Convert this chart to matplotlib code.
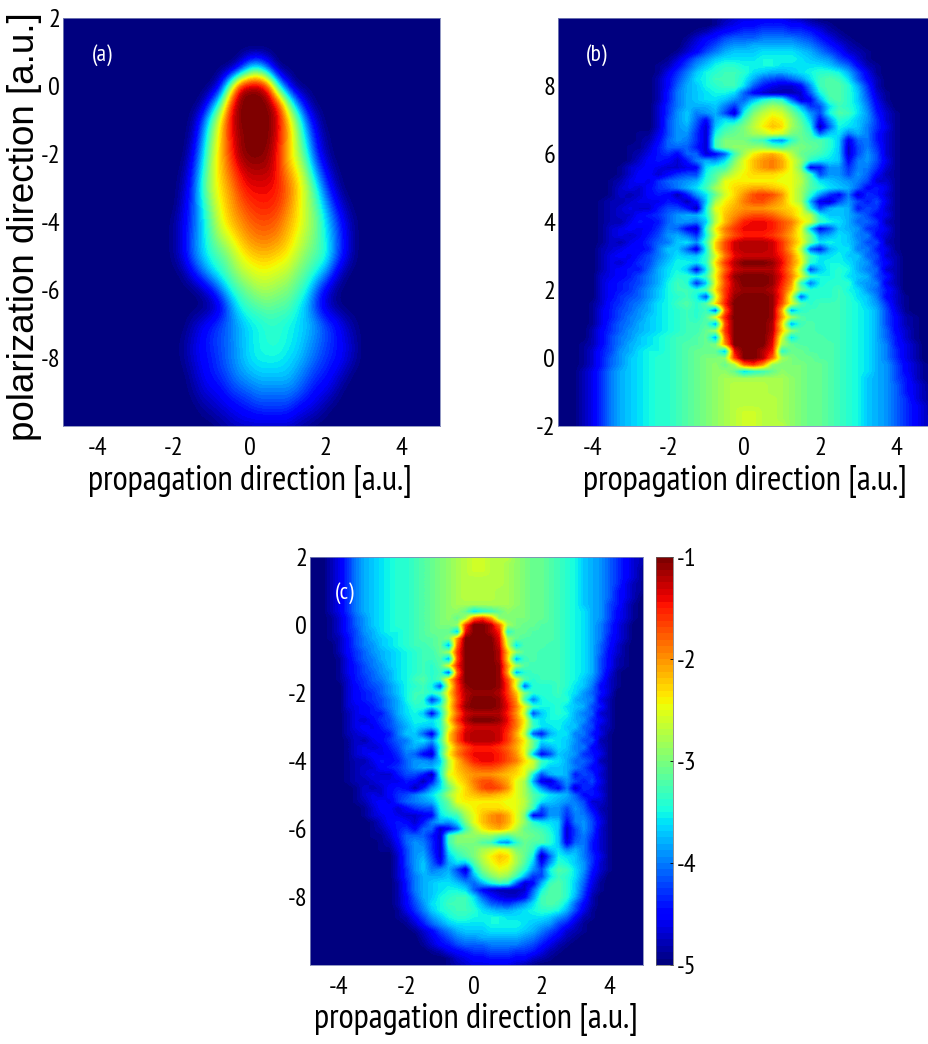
import numpy as np
import matplotlib
matplotlib.use("Agg")
import matplotlib.pyplot as plt
from matplotlib import font_manager as fm

W, H = 929, 1044
names = {f.name for f in fm.fontManager.ttflist}
NARROW = next((n for n in ["PT Sans Narrow", "Archivo Narrow", "Barlow Condensed", "Liberation Sans"] if n in names), "DejaVu Sans")

# Heatmap levels: log10 value = -5 + level / 10
# Panel (a): x = -2.5 .. 3.5 step 0.25, y = 1 .. -10 step 0.5
a_y = np.arange(1, -10.01, -0.5)
a_levels = [
 [0,0,0,0,0, 0,0,0,0,0, 0,0,0,0,0, 0,0,0,0,0, 0,0,0,0,0],
 [0,0,0,0,0, 0,0,0,0,4, 14,16,8,0,0, 0,0,0,0,0, 0,0,0,0,0],
 [0,0,0,0,0, 0,0,5,21,38, 40,40,35,16,5, 0,0,0,0,0, 0,0,0,0,0],
 [0,0,0,0,0, 1,8,18,34,40, 40,40,40,35,22, 10,3,0,0,0, 0,0,0,0,0],
 [0,0,0,0,1, 7,17,27,36,40, 40,40,40,37,29, 20,9,3,0,0, 0,0,0,0,0],
 [0,0,0,0,2, 10,20,28,35,39, 40,40,40,36,30, 22,13,5,1,0, 0,0,0,0,0],
 [0,0,0,0,4, 12,22,28,34,39, 40,40,39,35,28, 23,16,7,2,0, 0,0,0,0,0],
 [0,0,0,1,6, 14,23,28,32,36, 38,38,38,35,30, 26,20,11,5,1, 0,0,0,0,0],
 [0,0,0,2,7, 16,23,27,30,34, 36,36,36,35,32, 28,23,16,8,3, 0,0,0,0,0],
 [0,0,0,3,8, 14,21,26,29,32, 34,35,35,34,31, 27,23,18,12,6, 2,0,0,0,0],
 [0,0,1,4,8, 13,19,25,28,30, 32,33,33,32,29, 27,23,20,14,9, 4,1,0,0,0],
 [0,0,1,4,9, 13,18,22,25,28, 30,31,31,30,28, 25,22,19,15,10, 5,1,0,0,0],
 [0,0,1,4,9, 13,16,18,21,25, 27,28,28,27,26, 23,20,18,16,10, 5,1,0,0,0],
 [0,0,0,1,5, 9,13,16,19,22, 24,25,25,24,23, 20,18,15,11,5, 1,0,0,0,0],
 [0,0,0,0,0, 2,5,10,15,18, 20,22,22,21,20, 18,15,9,4,1, 0,0,0,0,0],
 [0,0,0,0,0, 0,1,4,10,15, 17,18,19,18,18, 15,12,7,3,1, 0,0,0,0,0],
 [0,0,0,0,2, 4,6,8,10,12, 14,15,16,16,15, 14,13,11,8,6, 3,1,0,0,0],
 [0,0,0,1,3, 5,7,8,10,12, 14,15,16,16,15, 14,12,10,8,6, 4,2,0,0,0],
 [0,0,0,1,3, 5,6,8,10,12, 14,15,15,15,14, 13,11,9,7,6, 4,2,0,0,0],
 [0,0,0,0,2, 4,6,7,9,11, 12,13,13,13,13, 11,9,7,6,4, 2,0,0,0,0],
 [0,0,0,0,1, 3,4,5,7,8, 9,10,10,10,10, 9,7,5,4,2, 0,0,0,0,0],
 [0,0,0,0,0, 1,2,3,4,5, 6,7,7,7,7, 5,4,3,1,0, 0,0,0,0,0],
 [0,0,0,0,0, 0,0,1,2,3, 3,3,3,3,3, 2,1,0,0,0, 0,0,0,0,0],
]

# Panel (b): x = -5 .. 5 step 0.25, y = 10 .. -2 step 0.2
b_x = np.arange(-5, 5.01, 0.25)
b_y = np.arange(10, -2.01, -0.2)
b_levels = [
 [0,0,0,0,0, 0,0,0,0,0, 0,0,0,0,0, 0,0,1,2,3, 4,4,4,4,4, 3,2,1,0,0, 0,0,0,0,0, 0,0,0,0,0, 0],
 [0,0,0,0,0, 0,0,0,0,0, 0,0,0,0,0, 0,0,1,3,4, 5,5,6,6,6, 5,5,3,2,1, 0,0,0,0,0, 0,0,0,0,0, 0],
 [0,0,0,0,0, 0,0,0,0,0, 0,0,0,0,0, 1,2,4,5,6, 7,7,8,8,8, 7,7,6,4,2, 1,0,0,0,0, 0,0,0,0,0, 0],
 [0,0,0,0,0, 0,0,0,0,0, 0,0,0,0,1, 3,5,6,8,9, 9,9,10,10,10, 10,9,8,6,4, 2,1,0,0,0, 0,0,0,0,0, 0],
 [0,0,0,0,0, 0,0,0,0,0, 0,0,0,0,2, 4,6,8,10,11, 11,12,12,12,12, 12,11,10,8,6, 4,2,1,0,0, 0,0,0,0,0, 0],
 [0,0,0,0,0, 0,0,0,0,0, 0,0,0,1,3, 5,8,10,12,13, 13,13,14,14,14, 14,13,12,10,8, 6,3,2,1,0, 0,0,0,0,0, 0],
 [0,0,0,0,0, 0,0,0,0,0, 0,0,1,3,6, 9,11,13,14,14, 14,14,15,15,15, 15,14,13,12,11, 8,6,3,1,0, 0,0,0,0,0, 0],
 [0,0,0,0,0, 0,0,0,0,0, 0,1,2,5,8, 11,13,15,16,16, 15,15,15,15,14, 14,14,14,14,13, 11,9,5,2,1, 0,0,0,0,0, 0],
 [0,0,0,0,0, 0,0,0,0,0, 0,1,4,7,10, 13,15,16,17,17, 16,14,13,12,12, 13,14,15,16,16, 15,12,8,4,1, 0,0,0,0,0, 0],
 [0,0,0,0,0, 0,0,0,0,0, 0,2,5,8,11, 14,15,17,17,17, 15,12,9,8,7, 9,11,14,17,18, 17,14,9,5,2, 0,0,0,0,0, 0],
 [0,0,0,0,0, 0,0,0,0,0, 0,2,5,9,12, 13,15,16,17,17, 14,9,6,4,3, 3,5,11,17,18, 18,16,12,7,2, 0,0,0,0,0, 0],
 [0,0,0,0,0, 0,0,0,0,0, 0,2,6,10,12, 13,14,15,15,14, 9,5,3,2,2, 2,3,9,15,18, 18,16,13,8,3, 1,0,0,0,0, 0],
 [0,0,0,0,0, 0,0,0,0,0, 0,2,6,10,12, 13,14,14,13,11, 9,12,15,17,16, 9,3,5,12,17, 18,16,13,9,4, 1,0,0,0,0, 0],
 [0,0,0,0,0, 0,0,0,0,0, 0,3,7,10,12, 12,12,13,10,7, 12,17,20,22,21, 17,12,7,8,14, 17,16,14,10,5, 2,0,0,0,0, 0],
 [0,0,0,0,0, 0,0,0,0,0, 0,3,7,11,13, 10,11,12,8,3, 15,20,23,25,24, 20,16,11,8,15, 18,17,14,11,6, 3,1,0,0,0, 0],
 [0,0,0,0,0, 0,0,0,0,0, 0,3,8,11,13, 9,5,12,14,13, 18,22,25,27,26, 22,18,13,5,11, 16,15,13,11,7, 3,1,0,0,0, 0],
 [0,0,0,0,0, 0,0,0,0,0, 0,3,8,11,12, 8,3,13,16,18, 20,23,26,28,27, 22,19,15,2,9, 15,14,13,10,7, 4,1,0,0,0, 0],
 [0,0,0,0,0, 0,0,0,0,1, 1,4,8,11,11, 7,3,15,18,19, 20,22,23,25,24, 20,19,17,9,13, 14,10,12,10,6, 3,1,0,0,0, 0],
 [0,0,0,0,0, 0,0,0,0,1, 2,5,9,11,10, 7,3,17,20,20, 20,18,17,12,11, 16,19,18,18,16, 13,4,9,10,6, 3,1,0,0,0, 0],
 [0,0,0,0,0, 0,0,0,1,1, 3,6,9,9,9, 6,3,17,20,21, 21,21,21,19,18, 20,20,19,18,16, 13,3,8,10,7, 3,1,0,0,0, 0],
 [0,0,0,0,0, 0,0,0,1,2, 4,6,7,5,9, 9,3,5,9,17, 22,26,28,29,27, 23,19,18,17,15, 13,3,8,11,8, 3,1,0,0,0, 0],
 [0,0,0,0,0, 0,0,0,1,3, 5,6,5,3,6, 10,12,11,14,20, 25,28,30,31,29, 25,21,16,14,14, 13,5,10,11,8, 4,1,0,0,0, 0],
 [0,0,0,0,0, 0,0,1,3,4, 5,4,3,3,4, 5,14,16,17,22, 25,28,30,31,29, 25,20,5,6,11, 11,7,10,10,7, 3,1,0,0,0, 0],
 [0,0,0,0,0, 0,0,1,3,5, 5,3,5,7,8, 8,15,18,21,24, 26,27,27,27,26, 25,22,17,8,11, 11,8,11,9,5, 2,1,0,0,0, 0],
 [0,0,0,0,0, 0,1,2,4,5, 4,7,9,10,11, 12,16,19,25,26, 26,26,26,26,25, 25,23,18,14,13, 12,11,10,8,3, 3,1,0,0,0, 0],
 [0,0,0,0,0, 0,1,3,4,3, 5,7,8,10,12, 14,17,22,25,27, 28,29,29,28,27, 25,22,18,16,14, 13,12,9,5,6, 4,1,0,0,0, 0],
 [0,0,0,0,0, 0,1,3,2,3, 5,6,5,2,6, 11,14,19,24,27, 30,33,34,33,30, 25,22,16,11,7, 5,10,3,7,6, 3,1,0,0,0, 0],
 [0,0,0,0,0, 1,2,2,3,4, 4,4,6,5,2, 6,13,22,26,28, 31,33,33,31,29, 25,22,12,4,3, 8,11,8,6,8, 4,1,0,0,0, 0],
 [0,0,0,0,0, 1,2,3,4,3, 3,6,8,8,6, 2,15,25,27,29, 30,30,30,29,28, 27,25,15,8,12, 13,12,6,8,7, 3,1,0,0,0, 0],
 [0,0,0,0,0, 1,2,3,3,5, 6,7,9,11,12, 12,15,23,28,30, 32,33,33,32,30, 28,25,23,15,13, 13,12,10,8,5, 4,1,0,0,0, 0],
 [0,0,0,0,0, 1,2,2,4,6, 5,6,9,11,11, 10,13,23,28,32, 35,36,36,35,33, 31,27,24,17,15, 14,12,9,9,7, 2,1,0,0,0, 0],
 [0,0,0,0,0, 1,3,4,5,4, 5,7,10,9,5, 3,16,26,31,34, 36,36,36,35,33, 30,25,13,5,8, 13,12,11,7,6, 4,1,0,0,0, 0],
 [0,0,0,0,0, 1,3,4,3,4, 6,8,11,12,10, 7,15,24,30,33, 35,35,35,34,32, 29,25,19,11,12, 14,13,10,10,5, 3,1,0,0,0, 0],
 [0,0,0,0,0, 1,3,2,4,5, 7,9,10,13,14, 11,17,27,33,37, 38,38,38,37,34, 30,26,19,14,15, 14,13,11,8,8, 2,1,0,0,0, 0],
 [0,0,0,0,0, 2,3,4,5,5, 6,10,13,13,9, 4,15,27,33,37, 38,38,38,37,34, 29,23,9,6,12, 14,14,10,10,6, 4,1,0,0,0, 0],
 [0,0,0,0,0, 2,4,5,4,6, 8,10,12,14,13, 13,16,24,31,36, 37,37,37,37,35, 31,25,17,14,14, 15,13,13,9,8, 3,2,0,0,0, 0],
 [0,0,0,0,0, 2,4,3,5,7, 8,11,13,15,15, 14,16,27,34,38, 40,40,40,39,36, 31,26,16,14,15, 15,14,12,11,7, 5,2,0,0,0, 0],
 [0,0,0,0,0, 2,4,5,6,6, 9,12,14,15,13, 5,14,25,32,37, 38,38,38,38,35, 30,23,8,13,15, 16,15,12,10,9, 3,2,0,0,0, 0],
 [0,0,0,0,0, 3,4,5,6,8, 10,12,14,16,16, 15,17,26,34,39, 40,40,40,39,36, 31,25,17,15,15, 16,14,13,12,8, 6,2,0,0,0, 0],
 [0,0,0,0,0, 3,5,6,7,8, 10,12,15,17,16, 7,13,25,33,38, 40,40,40,39,35, 30,17,10,15,16, 16,16,12,11,10, 4,2,0,0,0, 0],
 [0,0,0,0,0, 3,5,6,7,9, 11,13,15,17,17, 16,18,27,34,38, 39,39,39,38,34, 28,20,16,16,16, 17,15,14,11,9, 6,3,0,0,0, 0],
 [0,0,0,0,0, 3,5,7,8,9, 11,13,15,16,17, 15,8,24,34,39, 40,40,40,39,34, 24,9,16,16,16, 17,16,14,13,10, 5,3,1,0,0, 0],
 [0,0,0,0,1, 3,6,7,9,10, 12,14,15,17,18, 16,18,27,35,40, 40,40,40,39,33, 25,18,16,17,17, 17,16,15,13,11, 7,3,1,0,0, 0],
 [0,0,0,0,1, 4,6,8,9,11, 12,14,15,16,17, 16,17,9,32,40, 40,40,40,39,29, 12,16,17,17,17, 17,16,15,14,12, 8,4,1,0,0, 0],
 [0,0,0,0,1, 4,6,8,10,11, 13,14,15,16,17, 16,18,25,35,40, 40,40,40,39,30, 22,18,17,17,17, 17,16,15,14,12, 8,5,2,1,0, 0],
 [0,0,0,0,1, 4,7,9,10,12, 13,14,15,16,17, 17,18,12,33,40, 40,40,40,38,27, 12,17,18,17,17, 17,16,15,14,12, 8,5,2,1,0, 0],
 [0,0,0,0,2, 5,7,9,11,12, 13,14,15,16,17, 17,19,22,34,40, 40,40,40,38,28, 21,18,18,17,17, 17,16,15,14,12, 9,5,3,1,0, 0],
 [0,0,0,0,2, 5,8,10,11,13, 14,15,16,17,17, 18,19,12,32,40, 40,40,40,37,24, 14,18,18,18,17, 17,16,15,14,12, 9,6,3,1,0, 0],
 [0,0,0,1,2, 5,8,10,12,13, 14,15,16,17,18, 18,19,20,30,40, 40,40,40,36,22, 19,18,18,18,18, 17,16,15,14,12, 10,6,4,2,0, 0],
 [0,0,0,1,3, 6,8,11,12,14, 15,15,16,17,18, 19,19,19,13,36, 40,40,38,35,16, 19,19,18,18,18, 17,16,15,14,12, 10,7,4,2,0, 0],
 [0,0,0,1,3, 6,9,11,13,14, 15,16,16,17,18, 19,20,20,21,34, 40,40,38,32,22, 20,19,19,18,18, 17,16,15,14,12, 10,7,4,2,0, 0],
 [0,0,0,1,3, 6,9,11,13,14, 15,16,16,17,18, 19,20,21,19,22, 32,34,30,21,20, 20,20,19,19,18, 17,16,15,14,12, 11,8,5,3,1, 0],
 [0,0,0,2,4, 7,10,12,13,14, 15,16,16,17,18, 19,20,21,21,19, 14,16,17,19,21, 20,20,19,19,18, 17,16,15,14,12, 11,8,5,3,1, 0],
 [0,0,0,2,4, 7,10,12,13,14, 15,16,16,17,18, 19,20,21,22,22, 22,22,22,22,22, 21,20,19,19,18, 17,16,15,13,12, 11,8,6,3,1, 0],
 [0,0,0,2,4, 7,10,12,13,14, 15,16,16,17,18, 19,20,21,22,23, 23,23,23,22,22, 21,20,19,19,18, 17,16,15,13,12, 11,9,6,4,2, 0],
 [0,0,0,2,4, 7,10,12,13,14, 15,16,16,17,18, 19,20,21,22,23, 23,23,23,22,22, 21,20,19,19,18, 17,16,15,13,12, 11,9,6,4,2, 1],
 [0,0,0,2,4, 7,10,12,13,14, 15,16,16,17,18, 19,20,21,22,23, 23,23,23,23,22, 21,20,19,19,18, 17,16,15,13,12, 11,9,7,4,2, 1],
 [0,0,0,2,4, 7,10,12,13,14, 15,16,16,17,18, 19,20,21,22,23, 23,23,23,23,22, 21,20,19,19,18, 17,16,15,13,12, 11,9,7,5,3, 1],
 [0,0,0,2,4, 7,10,12,13,14, 15,16,16,17,18, 19,20,21,22,23, 24,24,23,23,22, 21,20,19,19,18, 17,16,15,13,12, 11,9,7,5,3, 1],
 [0,0,0,2,4, 7,10,12,13,14, 15,16,16,17,18, 19,20,21,22,23, 24,24,23,23,22, 21,20,19,19,18, 17,16,15,13,12, 11,9,7,5,3, 2],
 [0,0,0,2,4, 7,10,12,13,14, 15,16,16,17,18, 19,20,21,22,23, 24,24,23,23,23, 21,20,19,19,18, 17,16,15,13,12, 11,9,7,5,3, 2],
]

x_ticks = [-4, -2, 0, 2, 4]
a_yticks = [2, 0, -2, -4, -6, -8]
b_yticks = [8, 6, 4, 2, 0, -2]
c_yticks = [2, 0, -2, -4, -6, -8]
cbar_ticks = [-1, -2, -3, -4, -5]
xlabel = "propagation direction [a.u.]"
ylabel = "polarization direction [a.u.]"


def to_log(levels):
    return -5 + np.array(levels, dtype=float) / 10


def px_axes(fig, left, top, right, bottom):
    return fig.add_axes([left / W, 1 - bottom / H, (right - left) / W, (bottom - top) / H])


def style(ax, xlim, ylim, yticks, tag, tagxy):
    ax.set_xlim(*xlim)
    ax.set_ylim(*ylim)
    ax.set_xticks(x_ticks)
    ax.set_xticklabels([str(t) for t in x_ticks], family=NARROW, fontsize=19)
    ax.set_yticks(yticks)
    ax.set_yticklabels([str(t) for t in yticks], family=NARROW, fontsize=19)
    ax.tick_params(axis="x", length=0, pad=8)
    ax.tick_params(axis="y", length=0, pad=2)
    for s in ax.spines.values():
        s.set_linewidth(0.6)
        s.set_color("#7f86b8")
    fig.text(tagxy[0] / W, 1 - tagxy[1] / H, tag, color="white", family=NARROW, fontsize=17,
             ha="center", va="center", zorder=10)


cmap = plt.get_cmap("jet", 64)
fig = plt.figure(figsize=(W / 100, H / 100), dpi=100, facecolor="white")


def draw(ax, xs, ys, z, interp):
    dx, dy = abs(xs[1] - xs[0]), abs(ys[1] - ys[0])
    return ax.imshow(z, extent=[xs[0] - dx / 2, xs[-1] + dx / 2, ys[-1] - dy / 2, ys[0] + dy / 2],
                     cmap=cmap, vmin=-5, vmax=-1, aspect="auto", interpolation=interp,
                     origin="upper")


# (a)
ax_a = px_axes(fig, 63, 18, 440, 426)
z_a = np.pad(to_log(a_levels), ((2, 2), (10, 6)), constant_values=-5)
xs_a = np.arange(-5, 5.01, 0.25)
ys_a = np.concatenate([[a_y[0] + 1.0, a_y[0] + 0.5], a_y, [a_y[-1] - 0.5, a_y[-1] - 1.0]])
draw(ax_a, xs_a, ys_a, z_a, "bicubic")
style(ax_a, (-4.9, 5), (-10, 2), a_yticks, "(a)", (102, 55))

# (b)
ax_b = px_axes(fig, 558, 18, 934, 426)
z_b = to_log(b_levels)
draw(ax_b, b_x, b_y, z_b, "bilinear")
style(ax_b, (-4.9, 5), (-2, 10), b_yticks, "(b)", (597, 55))

# (c): the same distribution as (b) seen with the polarization axis reversed
ax_c = px_axes(fig, 310, 557, 643, 965)
draw(ax_c, b_x, -b_y[::-1], z_b[::-1], "bilinear")
style(ax_c, (-4.86, 5), (-10, 2), c_yticks, "(c)", (345, 593))

# colour bar
ax_cb = px_axes(fig, 656, 557, 673, 965)
grad = np.linspace(-1, -5, 64).reshape(-1, 1)
ax_cb.imshow(grad, extent=[0, 1, -5, -1], cmap=cmap, vmin=-5, vmax=-1, aspect="auto",
             interpolation="nearest")
ax_cb.set_xticks([])
ax_cb.yaxis.tick_right()
ax_cb.set_yticks(cbar_ticks)
ax_cb.set_yticklabels([str(t) for t in cbar_ticks], family=NARROW, fontsize=19)
ax_cb.tick_params(axis="y", direction="in", length=2.5, width=0.6, pad=3)
for s in ax_cb.spines.values():
    s.set_linewidth(0.5)
    s.set_color("#666666")

# axis titles
for cx, cy in [(250, 481), (745, 481), (476, 1020)]:
    fig.text(cx / W, 1 - cy / H, xlabel, family=NARROW, fontsize=25, ha="center", va="center")
fig.text(25 / W, 1 - 227 / H, ylabel, family="Liberation Sans", fontsize=26.5, rotation=90,
         ha="center", va="center")

fig.savefig("out.png", dpi=100)
